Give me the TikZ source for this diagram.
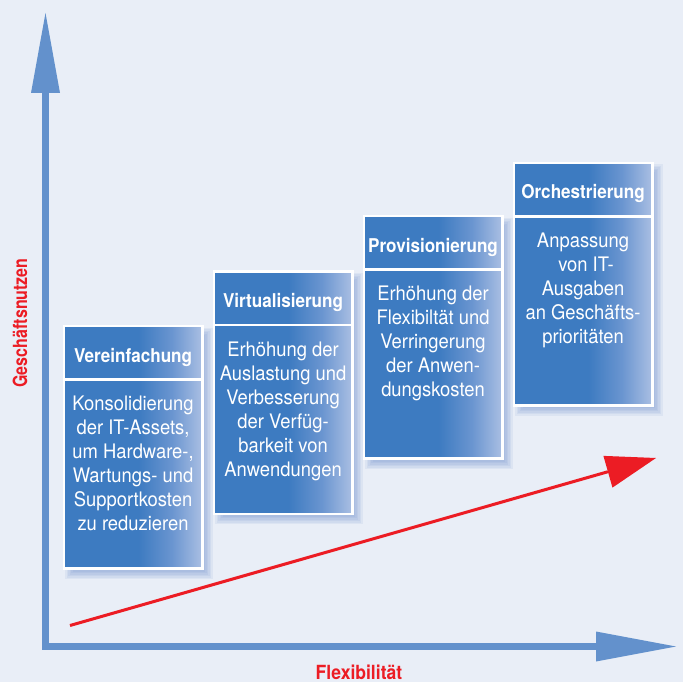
\documentclass[tikz,border=0pt]{standalone}
\usepackage{fontspec}
\setmainfont{TeX Gyre Heros}
\newfontfamily\bodyfont[FakeStretch=0.92]{TeX Gyre Heros}
\newfontfamily\headfont[FakeStretch=0.9]{TeX Gyre Heros}
\newfontfamily\ylabfont[FakeStretch=0.82]{TeX Gyre Heros}
\usetikzlibrary{arrows.meta,calc}
\definecolor{bgc}{HTML}{E9EEF7}
\definecolor{axisc}{HTML}{6391CC}
\definecolor{redc}{HTML}{EC1C24}
\definecolor{boxdark}{HTML}{3D7BC1}
\definecolor{boxmid}{HTML}{6A95D0}
\definecolor{boxlight}{HTML}{AABFE3}
\definecolor{shadc}{HTML}{5A82C8}
\pgfdeclarehorizontalshading{boxgrad}{100bp}{color(0bp)=(boxdark); color(25bp)=(boxdark); color(52bp)=(boxdark); color(64bp)=(boxmid); color(75bp)=(boxlight); color(100bp)=(boxlight)}
\tikzset{
  axisline/.style={draw=axisc, line width=6.5pt, line join=miter},
  redarrow/.style={draw=redc, line width=3pt, -{Triangle[length=50pt,width=33pt,line width=0pt]}},
  boxpart/.style={draw=white, line width=2.5pt, shading=boxgrad, minimum width=138.5pt, inner sep=0pt, outer sep=0pt},
  headbox/.style={boxpart, minimum height=53.5pt},
  bodybox/.style={boxpart, minimum height=189pt},
  titletext/.style={text=white, font=\headfont\bfseries\fontsize{19}{22}\selectfont, inner sep=0pt},
  bodytext/.style={text=white, font=\bodyfont\fontsize{20}{24}\selectfont, align=center, inner sep=0pt},
  labeltext/.style={text=redc, inner sep=0pt},
  softshadow/.style={fill=shadc, opacity=0.09},
}
\newcommand\stagebox[5]{%
  \foreach \e in {-3,-1.5,0,1.5,3,4.5}{
    \fill[softshadow] (#2+6-\e,#3+6-\e) rectangle (#2+138.5+6+\e,#3+242.5+6+\e);
  }
  \node[headbox, anchor=north west] (h#1) at (#2,#3) {};
  \node[bodybox, anchor=north] (b#1) at (h#1.south) {};
  \node[titletext, anchor=base] (t#1) at ($(h#1.north)+(0,36)$) {#4};
  \node[bodytext, anchor=north] (x#1) at ($(b#1.north)+(0,14.2)$) {\strut #5};
}
\begin{document}
\begin{tikzpicture}[x=1pt,y=-1pt]
\useasboundingbox (0,0) rectangle (683,682);
\fill[bgc] (0,0) rectangle (683,682);
% axes
\coordinate (O) at (45.5,646.5);
\coordinate (ytip) at (45.5,13);
\coordinate (xtip) at (676,646.5);
\draw[axisline, {Triangle[length=80pt,width=29pt,line width=0pt]}-{Triangle[length=80pt,width=30pt,line width=0pt]}] (ytip) -- (O) -- (xtip);
% red trend arrow
\coordinate (rs) at (70,625.5);
\coordinate (re) at (656,458);
\draw[redarrow] (rs) -- (re);
% labels
\node[labeltext, rotate=90, font=\ylabfont\bfseries\fontsize{19.5}{22}\selectfont] (ylab) at (20,323) {Geschäftsnutzen};
\node[labeltext, anchor=base, font=\headfont\bfseries\fontsize{19.5}{22}\selectfont] (xlab) at (359,679) {Flexibilität};
% stages
\stagebox{1}{63.8}{326.2}{Vereinfachung}{Konsolidierung\\der IT-Assets,\\um Hardware-,\\Wartungs- und\\Supportkosten\\zu reduzieren}
\stagebox{2}{213.8}{271.3}{Virtualisierung}{Erhöhung der\\Auslastung und\\Verbesserung\\der Verfüg-\\barkeit von\\Anwendungen}
\stagebox{3}{363.8}{216.2}{Provisionierung}{Erhöhung der\\Flexibiltät und\\Verringerung\\der Anwen-\\dungskosten}
\stagebox{4}{513.8}{162.8}{Orchestrierung}{Anpassung\\\hspace{6pt}von IT-\\Ausgaben\\an Geschäfts-\\prioritäten}
\end{tikzpicture}
\end{document}
